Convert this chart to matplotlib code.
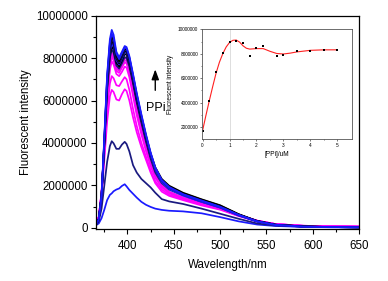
import matplotlib
matplotlib.use("Agg")
import matplotlib.pyplot as plt
import numpy as np

plt.rcParams['font.family'] = ['Liberation Sans', 'DejaVu Sans']

# ---- main spectra data (intensity in millions) ----
wavelength = [366, 369, 372, 375, 378, 381, 383, 385, 388, 391, 394, 397, 399, 402, 406,
              410, 415, 420, 425, 430, 437, 445, 460, 480, 500, 520, 540, 560, 590, 620, 650]

s01 = [0.12, 0.2, 0.45, 0.85, 1.3, 1.55, 1.62, 1.72, 1.8, 1.85, 1.97, 2.05, 1.95, 1.78, 1.6,
       1.42, 1.22, 1.08, 0.98, 0.9, 0.84, 0.8, 0.77, 0.68, 0.5, 0.3, 0.15, 0.08, 0.04, 0.02, 0.01]
s02 = [0.12, 0.3, 0.9, 2.0, 3.1, 3.85, 4.08, 3.98, 3.72, 3.72, 3.92, 4.05, 3.95, 3.6, 2.95,
       2.6, 2.3, 2.1, 1.9, 1.65, 1.35, 1.24, 1.12, 0.9, 0.66, 0.42, 0.2, 0.1, 0.05, 0.03, 0.02]
s03 = [0.2, 0.5, 1.5, 3.2, 5.0, 6.2, 6.5, 6.4, 6.05, 6.0, 6.3, 6.53, 6.45, 6.0, 5.2,
       4.5, 3.8, 3.2, 2.6, 2.1, 1.7, 1.5, 1.3, 1.05, 0.85, 0.55, 0.3, 0.15, 0.08, 0.06, 0.05]
s04 = [0.2, 0.5, 1.6, 3.5, 5.5, 6.8, 7.15, 7.05, 6.72, 6.68, 6.9, 7.1, 7.0, 6.5, 5.6,
       4.8, 4.0, 3.35, 2.7, 2.2, 1.8, 1.55, 1.35, 1.1, 0.88, 0.56, 0.3, 0.15, 0.08, 0.06, 0.05]
s05 = [0.2, 0.5, 1.6, 3.6, 6.0, 7.45, 7.85, 7.7, 7.25, 7.15, 7.35, 7.6, 7.55, 7.1, 6.2,
       5.3, 4.4, 3.6, 2.9, 2.35, 1.9, 1.62, 1.38, 1.12, 0.9, 0.58, 0.32, 0.17, 0.09, 0.07, 0.05]
s06 = [0.2, 0.5, 1.6, 3.7, 6.1, 7.65, 8.05, 7.9, 7.4, 7.3, 7.55, 7.8, 7.75, 7.3, 6.4,
       5.5, 4.55, 3.75, 3.0, 2.45, 1.95, 1.66, 1.4, 1.14, 0.92, 0.6, 0.33, 0.17, 0.09, 0.07, 0.05]
s07 = [0.2, 0.5, 1.65, 3.75, 6.2, 7.75, 8.15, 8.0, 7.5, 7.4, 7.65, 7.9, 7.85, 7.4, 6.5,
       5.55, 4.6, 3.8, 3.05, 2.48, 1.98, 1.68, 1.41, 1.15, 0.92, 0.6, 0.33, 0.17, 0.09, 0.07, 0.05]
s08 = [0.2, 0.5, 1.7, 3.8, 6.3, 7.85, 8.25, 8.1, 7.55, 7.45, 7.72, 8.0, 7.95, 7.5, 6.6,
       5.65, 4.7, 3.85, 3.1, 2.5, 2.0, 1.7, 1.42, 1.15, 0.93, 0.6, 0.33, 0.17, 0.09, 0.07, 0.05]
s09 = [0.15, 0.4, 1.5, 3.9, 6.5, 8.0, 8.4, 8.25, 7.65, 7.5, 7.75, 8.05, 8.0, 7.6, 6.8,
       5.9, 4.95, 4.05, 3.25, 2.6, 2.1, 1.8, 1.52, 1.22, 0.95, 0.58, 0.3, 0.14, 0.06, 0.03, 0.02]
s10 = [0.15, 0.4, 1.5, 3.95, 6.6, 8.15, 8.55, 8.4, 7.78, 7.6, 7.88, 8.2, 8.15, 7.75, 6.9,
       6.0, 5.05, 4.15, 3.35, 2.7, 2.2, 1.9, 1.6, 1.3, 1.02, 0.62, 0.31, 0.14, 0.06, 0.03, 0.02]
s11 = [0.15, 0.4, 1.5, 4.0, 6.7, 8.3, 8.7, 8.55, 7.9, 7.7, 7.98, 8.3, 8.25, 7.85, 7.0,
       6.1, 5.1, 4.2, 3.38, 2.72, 2.15, 1.82, 1.52, 1.22, 0.95, 0.58, 0.29, 0.13, 0.05, 0.03, 0.02]
s12 = [0.15, 0.4, 1.5, 4.05, 6.8, 8.45, 8.85, 8.65, 7.98, 7.75, 8.05, 8.35, 8.3, 7.9, 7.05,
       6.15, 5.15, 4.25, 3.45, 2.8, 2.25, 1.95, 1.62, 1.32, 1.04, 0.63, 0.31, 0.14, 0.06, 0.03, 0.02]
s13 = [0.15, 0.4, 1.5, 4.1, 6.9, 8.55, 8.95, 8.75, 8.05, 7.8, 8.1, 8.4, 8.35, 7.95, 7.1,
       6.2, 5.2, 4.28, 3.45, 2.78, 2.2, 1.88, 1.56, 1.26, 0.98, 0.6, 0.3, 0.13, 0.05, 0.03, 0.02]
s14 = [0.15, 0.4, 1.5, 4.15, 7.0, 8.65, 9.05, 8.85, 8.1, 7.85, 8.15, 8.45, 8.4, 8.0, 7.15,
       6.25, 5.25, 4.32, 3.5, 2.85, 2.3, 1.98, 1.65, 1.34, 1.06, 0.64, 0.32, 0.14, 0.06, 0.03, 0.02]
s15 = [0.15, 0.4, 1.5, 4.2, 7.1, 8.75, 9.15, 8.95, 8.2, 7.95, 8.22, 8.5, 8.45, 8.05, 7.2,
       6.3, 5.3, 4.35, 3.5, 2.8, 2.22, 1.9, 1.57, 1.27, 0.98, 0.6, 0.3, 0.13, 0.05, 0.03, 0.02]
s16 = [0.15, 0.4, 1.5, 4.3, 7.2, 8.9, 9.33, 9.1, 8.3, 8.04, 8.3, 8.57, 8.52, 8.1, 7.25,
       6.35, 5.35, 4.4, 3.55, 2.85, 2.25, 1.92, 1.58, 1.28, 0.99, 0.61, 0.3, 0.13, 0.05, 0.03, 0.02]

spectra = [s01, s02, s03, s04, s05, s06, s07, s08, s09, s10, s11, s12, s13, s14, s15, s16]
spectra_colors = ['#1a1aff', '#1a1a80', '#ff00ff', '#ff00ff', '#ff00ff', '#ff00ff', '#e619e6',
                  '#ff00ff', '#1a1a80', '#000000', '#1a1aff', '#000000', '#1a1a80', '#000000',
                  '#1a1aff', '#1a1aff']

# ---- inset data ----
ppi_conc = [0, 0.25, 0.5, 0.75, 1.0, 1.25, 1.5, 1.75, 2.0, 2.25, 2.75, 3.0, 3.5, 4.0, 4.5, 5.0]
ppi_int = [1.67, 4.1, 6.49, 8.08, 9.0, 9.06, 8.87, 7.84, 8.5, 8.67, 7.84, 7.89, 8.19, 8.22, 8.27, 8.3]
fit_x = [0, 0.125, 0.25, 0.375, 0.5, 0.625, 0.75, 0.875, 1.0, 1.125, 1.25, 1.375, 1.5, 1.625,
         1.75, 2.0, 2.25, 2.5, 2.75, 3.0, 3.25, 3.5, 4.0, 4.5, 5.0]
fit_y = [1.7, 2.95, 4.15, 5.3, 6.4, 7.3, 8.0, 8.55, 8.92, 9.1, 9.12, 8.95, 8.65, 8.45,
         8.38, 8.42, 8.42, 8.2, 8.02, 7.98, 8.05, 8.15, 8.28, 8.32, 8.32]

M = 1e6

fig = plt.figure(figsize=(3.88, 2.81), dpi=100)
ax = fig.add_axes([96/388, 1-229.3/281, (359-96)/388, (229.3-15.7)/281])

for s, c in zip(spectra, spectra_colors):
    ax.plot(wavelength, np.array(s) * M, color=c, lw=1.25, solid_joinstyle='round')

ax.set_xlim(366, 650)
ax.set_ylim(-75000, 1e7)
ax.set_xticks([400, 450, 500, 550, 600, 650])
ax.set_xticks(np.arange(375, 650, 25), minor=True)
ax.set_yticks(np.arange(0, 1.0e7 + 1, 2e6))
ax.set_yticks(np.arange(0, 1.0e7 + 1, 1e6), minor=True)
ax.set_yticklabels([str(int(v)) for v in np.arange(0, 1.0e7 + 1, 2e6)])
ax.tick_params(axis='both', which='major', direction='out', length=3.5, width=0.8, labelsize=8.3)
ax.tick_params(axis='y', which='major', pad=2.5)
ax.tick_params(axis='x', which='major', pad=4.5)
ax.tick_params(axis='both', which='minor', direction='out', length=2, width=0.8)
for sp in ax.spines.values():
    sp.set_linewidth(0.9)
ax.set_xlabel('Wavelength/nm', fontsize=8.3, labelpad=5)
ax.set_ylabel('Fluorescent intensity', fontsize=8.3, labelpad=3)

ax.annotate('', xy=(430, 7.6e6), xytext=(430, 6.35e6),
            arrowprops=dict(arrowstyle='-|>,head_length=0.6,head_width=0.22', color='black', lw=1.0))
ax.text(431, 5.65e6, 'PPi', fontsize=9, ha='center', va='center')

# ---- inset ----
axi = fig.add_axes([202/388, 1-139.3/281, (351.7-202)/388, (139.3-29.3)/281])
axi.axvline(1.0, color='#d0d0d0', lw=0.5, zorder=0)
axi.plot(fit_x, np.array(fit_y) * M, color='#ff2020', lw=0.8)
axi.plot(ppi_conc, np.array(ppi_int) * M, 's', color='black', ms=2.0, mew=0)
axi.set_xlim(-0.02, 5.53)
axi.set_ylim(1e6, 1e7)
axi.set_xticks([0, 1, 2, 3, 4, 5])
axi.set_xticks(np.arange(0.5, 5.5, 1.0), minor=True)
axi.set_yticks(np.arange(2e6, 1e7 + 1, 2e6))
axi.set_yticks(np.arange(2e6, 1e7 + 1, 1e6), minor=True)
axi.set_yticklabels([str(int(v)) for v in np.arange(2e6, 1e7 + 1, 2e6)])
axi.tick_params(axis='both', which='major', direction='out', length=1.6, width=0.5,
                labelsize=3.4, pad=1.2, color='#444444')
axi.tick_params(axis='both', which='minor', direction='out', length=1.0, width=0.5, color='#444444')
for sp in axi.spines.values():
    sp.set_linewidth(0.6)
    sp.set_color('#555555')
axi.set_xlabel('[PPi]/uM', fontsize=4.7, labelpad=2)
axi.set_ylabel('Flucrescent intensity', fontsize=4.7, labelpad=2.5)

fig.savefig('out.png', dpi=100)
